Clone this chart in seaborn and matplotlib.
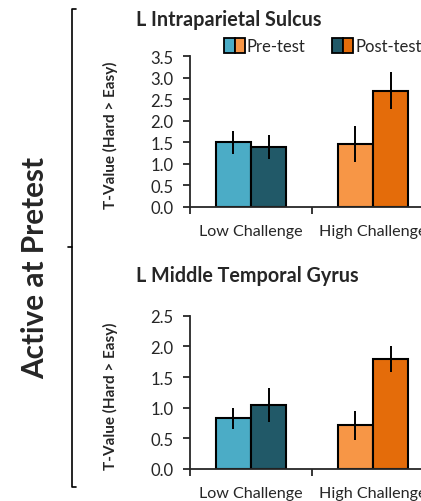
import numpy as np
import pandas as pd
import matplotlib.pyplot as plt
from matplotlib.lines import Line2D
from matplotlib.patches import Patch
from matplotlib.legend_handler import HandlerTuple
import seaborn as sns

# Data
challenges = ["Low Challenge", "High Challenge"]
sessions = ["Pre-test", "Post-test"]

ips_pre = [1.50, 1.46]
ips_post = [1.39, 2.70]
ips_pre_err = [0.26, 0.41]
ips_post_err = [0.27, 0.44]

mtg_pre = [0.83, 0.71]
mtg_post = [1.04, 1.79]
mtg_pre_err = [0.17, 0.23]
mtg_post_err = [0.28, 0.21]

bar_colors = {
    ("Pre-test", "Low Challenge"): "#4bacc6",
    ("Post-test", "Low Challenge"): "#215968",
    ("Pre-test", "High Challenge"): "#f79646",
    ("Post-test", "High Challenge"): "#e46c0a",
}

sns.set_style("ticks")
plt.rcParams["font.family"] = ["Lato", "DejaVu Sans"]

W, H = 421, 502
fig = plt.figure(figsize=(W / 100, H / 100), dpi=100)


def make_df(pre, post, pre_err, post_err):
    return pd.DataFrame({
        "challenge": challenges * 2,
        "session": [sessions[0]] * 2 + [sessions[1]] * 2,
        "value": pre + post,
        "err": pre_err + post_err,
    })


def draw_panel(ax, df, ymax):
    sns.barplot(data=df, x="challenge", y="value", hue="session",
                order=challenges, hue_order=sessions, width=0.574,
                errorbar=None, edgecolor="black", linewidth=1.5,
                legend=False, ax=ax)
    for sess, cont in zip(sessions, ax.containers):
        for chal, bar in zip(challenges, cont):
            bar.set_facecolor(bar_colors[(sess, chal)])
            row = df[(df.session == sess) & (df.challenge == chal)].iloc[0]
            ax.errorbar(bar.get_x() + bar.get_width() / 2, row.value,
                        yerr=row.err, color="black", lw=1.4, capsize=0,
                        zorder=1)
    ticks = np.arange(0, ymax + 0.01, 0.5)
    ax.set_xlim(-0.5, 1.5)
    ax.set_ylim(0, ymax)
    ax.set_yticks(ticks)
    ax.set_yticklabels([f"{v:.1f}" for v in ticks])
    ax.set_xticks([-0.5, 0.5, 1.5], minor=True)
    ax.tick_params(axis="x", which="major", length=0, pad=12, labelsize=11.6)
    ax.tick_params(axis="x", which="minor", length=5, width=1.3, direction="out")
    ax.tick_params(axis="y", length=5, width=1.3, pad=7, labelsize=12)
    ax.set_xlabel("")
    ax.set_ylabel("T-Value (Hard > Easy)", fontsize=11, fontweight="bold")
    ax.yaxis.set_label_coords(-0.295, 0.48)
    sns.despine(ax=ax)
    for s in ["left", "bottom"]:
        ax.spines[s].set_linewidth(1.3)


ax1 = fig.add_axes([190 / W, 1 - 208 / H, 244 / W, (208 - 57) / H])
ax2 = fig.add_axes([190 / W, 1 - 470 / H, 244 / W, (470 - 316.7) / H])

draw_panel(ax1, make_df(ips_pre, ips_post, ips_pre_err, ips_post_err), 3.5)
draw_panel(ax2, make_df(mtg_pre, mtg_post, mtg_pre_err, mtg_post_err), 2.5)

fig.text(136 / W, 1 - 20 / H, "L Intraparietal Sulcus", fontsize=14.2,
         fontweight="bold", ha="left", va="center")
fig.text(136 / W, 1 - 276 / H, "L Middle Temporal Gyrus", fontsize=14.2,
         fontweight="bold", ha="left", va="center")

# split-colour legend patches
handles = []
for sess in sessions:
    handles.append(tuple(Patch(facecolor=bar_colors[(sess, c)], edgecolor="black",
                               linewidth=1.3) for c in challenges))
fig.legend(handles, sessions, handler_map={tuple: HandlerTuple(ndivide=None, pad=0)},
           loc="center left", bbox_to_anchor=(224 / W, 1 - 47 / H), ncol=2,
           frameon=False, fontsize=12, handlelength=1.26, handleheight=1.0,
           handletextpad=0.12, columnspacing=1.6, borderpad=0, borderaxespad=0)

# bracket and group label
bx = [76, 72, 72, 76]
by = [10, 10, 488, 488]
fig.add_artist(Line2D([x / W for x in bx], [1 - y / H for y in by],
                      transform=fig.transFigure, color="black", lw=1.2))
fig.add_artist(Line2D([68 / W, 72 / W], [1 - 248 / H, 1 - 248 / H],
                      transform=fig.transFigure, color="black", lw=1.2))
fig.text(35 / W, 1 - 268 / H, "Active at Pretest", rotation=90, fontsize=21.4,
         fontweight="bold", ha="center", va="center")

fig.savefig("out.png", dpi=100)
